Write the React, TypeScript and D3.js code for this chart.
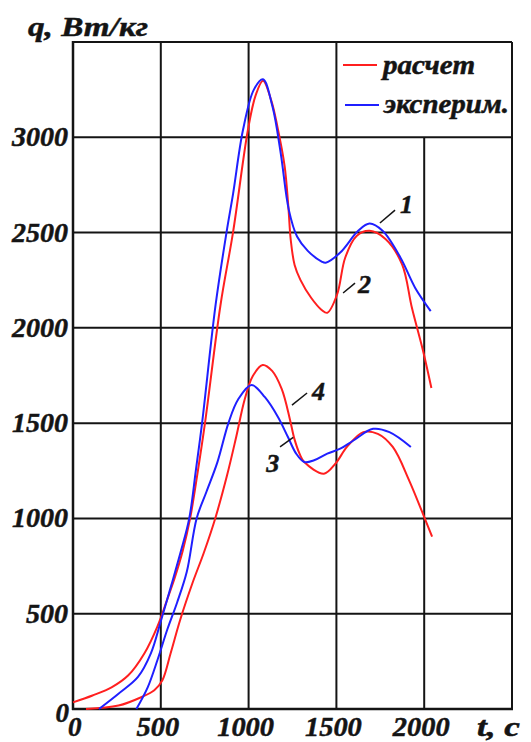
import * as d3 from "d3"

// t, c  /  q, Вт/кг
const curve1Exp: [number, number][] = [
  [148, 0], [259, 80], [370, 168], [444, 293], [500, 460], [560, 650], [615, 830],
  [662, 1000], [700, 1255], [735, 1500], [812, 2120], [875, 2505], [912, 2706],
  [968, 3038], [1030, 3250], [1082, 3304], [1136, 3161], [1183, 2916], [1229, 2619],
  [1276, 2479], [1337, 2404], [1416, 2348], [1439, 2342], [1522, 2395], [1624, 2509],
  [1689, 2547], [1763, 2509], [1865, 2368], [1948, 2211], [2037, 2088],
]

const curve2Calc: [number, number][] = [
  [0, 35], [111, 71], [222, 115], [315, 177], [407, 293], [481, 434], [537, 576],
  [580, 690], [625, 830], [667, 1000], [712, 1255], [752, 1503], [840, 2120],
  [912, 2505], [996, 3038], [1040, 3220], [1082, 3297], [1130, 3190], [1164, 3056],
  [1205, 2850], [1226, 2640], [1240, 2462], [1262, 2330], [1295, 2252], [1356, 2158],
  [1416, 2094], [1448, 2079], [1504, 2175], [1550, 2368], [1615, 2482], [1689, 2509],
  [1781, 2465], [1874, 2333], [1930, 2105], [1994, 1877], [2041, 1684],
]

const curve3Exp: [number, number][] = [
  [361, 0], [426, 115], [481, 257], [537, 417], [593, 559], [648, 720], [704, 1000],
  [760, 1140], [822, 1294], [886, 1503], [941, 1625], [1017, 1700], [1093, 1636],
  [1168, 1531], [1224, 1427], [1271, 1340], [1317, 1296], [1373, 1305], [1448, 1340],
  [1522, 1366], [1597, 1409], [1709, 1470], [1802, 1453], [1924, 1375],
]

const curve4Calc: [number, number][] = [
  [74, 0], [259, 18], [389, 62], [463, 98], [509, 151], [556, 293], [611, 470],
  [680, 660], [745, 820], [810, 1000], [877, 1225], [930, 1430], [978, 1625],
  [1024, 1747], [1080, 1805], [1134, 1774], [1189, 1678], [1235, 1521], [1260, 1420],
  [1290, 1340], [1317, 1296], [1429, 1235], [1494, 1287], [1560, 1375], [1653, 1453],
  [1736, 1444], [1821, 1375], [1914, 1200], [2007, 991], [2045, 904],
]

const xTicks = [500, 1000, 1500, 2000]
const yTicks = [500, 1000, 1500, 2000, 2500, 3000]

// curve numbers: text position and leader line, in data units
const curveLabels = [
  { text: "1", t: 1862, q: 2602, from: [1748, 2550], to: [1834, 2618] },
  { text: "2", t: 1623, q: 2183, from: [1538, 2183], to: [1606, 2235] },
  { text: "4", t: 1361, q: 1621, from: [1247, 1595], to: [1333, 1658] },
  { text: "3", t: 1100, q: 1243, from: [1254, 1425], to: [1179, 1376] },
]

const RED = "#ff1f1f"
const BLUE = "#1f1fff"
const INK = "#141414"
const FONT = "'Liberation Serif', 'Times New Roman', serif"

export default function App() {
  const width = 531
  const height = 742

  const x = d3.scaleLinear().domain([0, 2500]).range([73, 512])
  const y = d3.scaleLinear().domain([0, 3500]).range([709, 42])

  const line = d3
    .line<[number, number]>()
    .x((d) => x(d[0]))
    .y((d) => y(d[1]))
    .curve(d3.curveCatmullRom.alpha(0.5))

  const series = [
    { data: curve2Calc, color: RED },
    { data: curve4Calc, color: RED },
    { data: curve1Exp, color: BLUE },
    { data: curve3Exp, color: BLUE },
  ]

  const textStyle = {
    fontFamily: FONT,
    fontWeight: "bold" as const,
    fontStyle: "italic" as const,
    fill: INK,
    stroke: INK,
    strokeWidth: 0.5,
  }

  return (
    <svg
      width={width}
      height={height}
      style={{ position: "absolute", left: 0, top: 0, background: "#fff" }}
    >
      {/* grid */}
      {yTicks.map((v) => (
        <line key={"h" + v} x1={x(0)} x2={x(2500)} y1={y(v)} y2={y(v)} stroke={INK} strokeWidth={2} />
      ))}
      {xTicks.map((v) => (
        <line
          key={"v" + v}
          x1={x(v)}
          x2={x(v)}
          y1={y(0)}
          y2={v === 2000 ? y(3000) : y(3500)}
          stroke={INK}
          strokeWidth={2}
        />
      ))}
      {/* frame */}
      <line x1={x(0)} x2={x(2500)} y1={y(3500)} y2={y(3500)} stroke={INK} strokeWidth={2} />
      <line x1={x(2500)} x2={x(2500)} y1={y(0)} y2={y(3500)} stroke={INK} strokeWidth={2} />
      <line x1={x(0)} x2={x(0)} y1={y(0) + 1} y2={y(3500) - 1} stroke={INK} strokeWidth={2.5} />
      <line x1={x(0) - 1} x2={x(2500) + 1} y1={y(0)} y2={y(0)} stroke={INK} strokeWidth={2.5} />

      {/* curves */}
      {series.map((s, i) => (
        <path key={i} d={line(s.data) || ""} fill="none" stroke={s.color} strokeWidth={2} />
      ))}

      {/* leader lines and curve numbers */}
      {curveLabels.map((l) => (
        <g key={l.text}>
          <line x1={x(l.from[0])} y1={y(l.from[1])} x2={x(l.to[0])} y2={y(l.to[1])} stroke={INK} strokeWidth={1.5} />
          <text x={x(l.t)} y={y(l.q)} fontSize={26} style={textStyle}>
            {l.text}
          </text>
        </g>
      ))}

      {/* y tick labels */}
      {yTicks.map((v) => (
        <text
          key={"yl" + v}
          x={68}
          y={y(v) + 9}
          textAnchor="end"
          fontSize={27}
          textLength={String(v).length * 14}
          lengthAdjust="spacingAndGlyphs"
          style={textStyle}
        >
          {v}
        </text>
      ))}
      <text x={69} y={722} textAnchor="end" fontSize={27} style={textStyle}>
        0
      </text>

      {/* x tick labels */}
      <text x={68} y={736} fontSize={27} style={textStyle}>
        0
      </text>
      {xTicks.map((v) => (
        <text
          key={"xl" + v}
          x={x(v) - 3}
          y={736}
          textAnchor="middle"
          fontSize={27}
          textLength={String(v).length * 14.2}
          lengthAdjust="spacingAndGlyphs"
          style={textStyle}
        >
          {v}
        </text>
      ))}

      {/* axis titles */}
      <text x={477} y={736} fontSize={28} textLength={43} lengthAdjust="spacingAndGlyphs" style={textStyle}>
        t, с
      </text>
      <text x={28} y={36} fontSize={28} textLength={120} lengthAdjust="spacingAndGlyphs" style={textStyle}>
        q, Вт/кг
      </text>

      {/* legend */}
      <line x1={343} x2={377} y1={65} y2={65} stroke={RED} strokeWidth={2} />
      <text x={383} y={74} fontSize={27} textLength={92} lengthAdjust="spacingAndGlyphs" style={textStyle}>
        расчет
      </text>
      <line x1={345} x2={379} y1={105} y2={105} stroke={BLUE} strokeWidth={2} />
      <text x={384} y={113} fontSize={27} textLength={125} lengthAdjust="spacingAndGlyphs" style={textStyle}>
        эксперим.
      </text>
    </svg>
  )
}
